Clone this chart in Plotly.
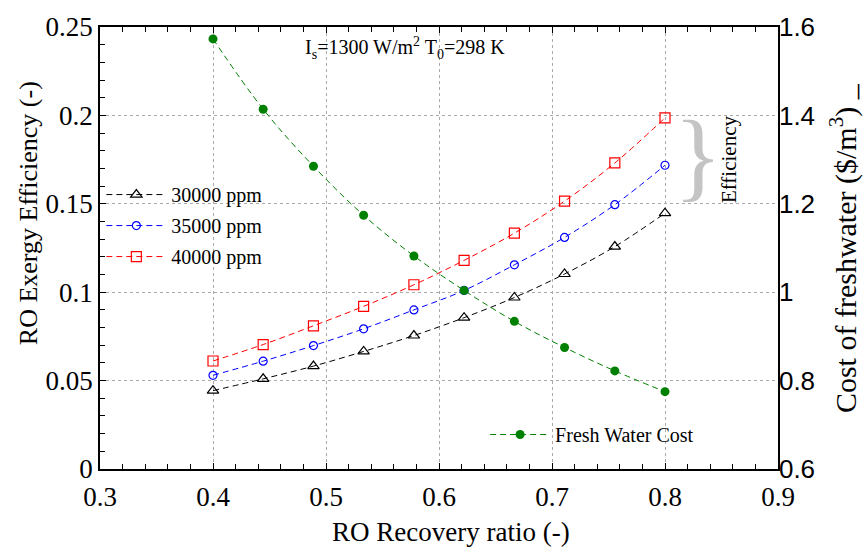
import plotly.graph_objects as go

recovery = [0.4, 0.4444, 0.4889, 0.5333, 0.5778, 0.6222, 0.6667, 0.7111, 0.7556, 0.8]
eff_30000 = [0.0443, 0.0510, 0.0582, 0.0665, 0.0755, 0.0856, 0.0970, 0.1103, 0.1258, 0.1447]
eff_35000 = [0.0530, 0.0610, 0.0698, 0.0793, 0.0900, 0.1010, 0.1155, 0.1310, 0.1495, 0.1718]
eff_40000 = [0.0611, 0.0704, 0.0810, 0.0920, 0.1042, 0.1180, 0.1334, 0.1515, 0.1731, 0.1986]
cost = [1.573, 1.414, 1.285, 1.174, 1.082, 1.004, 0.934, 0.875, 0.822, 0.775]

SERIF = "Liberation Serif, Times New Roman, serif"
SANS = "Liberation Sans, Arial, sans-serif"
DASH = "6px,4px"

fig = go.Figure()
series = [
    ("30000 ppm", eff_30000, "black", "triangle-up-open", 10),
    ("35000 ppm", eff_35000, "blue", "circle-open", 8),
    ("40000 ppm", eff_40000, "red", "square-open", 10),
]
for i, (name, vals, col, sym, sz) in enumerate(series):
    fig.add_trace(go.Scatter(
        x=recovery, y=vals, name=name, mode="lines+markers",
        line=dict(color=col, width=1, dash=DASH, shape="spline"),
        marker=dict(symbol=sym, size=sz, color=col, line=dict(width=1.2, color=col)),
        legendgroup=f"g{i}", legend="legend",
    ))
fig.add_trace(go.Scatter(
    x=recovery, y=cost, name="Fresh Water Cost", mode="lines+markers",
    line=dict(color="#008000", width=1, dash=DASH, shape="spline"),
    marker=dict(symbol="circle", size=9, color="#008000"),
    yaxis="y2", legend="legend2",
))

grid = dict(showgrid=True, gridcolor="#aaaaaa", griddash="dot", gridwidth=1)
fig.update_layout(
    width=865, height=552,
    margin=dict(l=100, r=87, t=18, b=83),
    plot_bgcolor="white", paper_bgcolor="white",
    font=dict(family=SERIF, size=18, color="black"),
    xaxis=dict(
        range=[0.3, 0.9], dtick=0.1, tick0=0.3, ticks="inside", ticklen=6,
        tickcolor="black", showline=True, linecolor="black", linewidth=1.5,
        mirror="ticks", zeroline=False, ticklabelstandoff=3,
        tickfont=dict(family=SERIF, size=27),
        minor=dict(dtick=0.02, ticks="inside", ticklen=5, tickcolor="black", showgrid=False),
        **grid,
    ),
    yaxis=dict(
        range=[0, 0.25], dtick=0.05, ticks="inside", ticklen=6,
        tickcolor="black", showline=True, linecolor="black", linewidth=1.5,
        zeroline=False, tickfont=dict(family=SERIF, size=27),
        minor=dict(dtick=0.01, ticks="inside", ticklen=5, tickcolor="black", showgrid=False),
        **grid,
    ),
    yaxis2=dict(
        range=[0.6, 1.6], dtick=0.2, overlaying="y", side="right",
        showline=True, linecolor="black", linewidth=1.5, showgrid=False,
        zeroline=False, ticks="", ticklabelstandoff=-6,
        tickfont=dict(family=SANS, size=26),
    ),
    legend=dict(x=0.002, y=0.665, xanchor="left", yanchor="top",
                bgcolor="rgba(0,0,0,0)", font=dict(family=SERIF, size=20),
                itemwidth=60, tracegroupgap=2),
    legend2=dict(x=0.568, y=0.078, xanchor="left", yanchor="middle",
                 bgcolor="rgba(0,0,0,0)", font=dict(family=SERIF, size=20),
                 itemwidth=60),
    showlegend=True,
)

# axis titles
fig.add_annotation(text="RO Recovery ratio (-)", xref="paper", yref="paper",
                   x=0.517, y=-0.142, xanchor="center", yanchor="middle", showarrow=False,
                   font=dict(family=SERIF, size=27))
fig.add_annotation(text="RO Exergy Efficiency (-)", xref="paper", yref="paper",
                   x=-0.106, y=0.579, xanchor="center", yanchor="middle", showarrow=False,
                   textangle=-90, font=dict(family=SERIF, size=26))
fig.add_annotation(text="Cost of freshwater ($/m<sup>3</sup>) _", xref="paper", yref="paper",
                   x=1.096, y=0.50, xanchor="center", yanchor="middle", showarrow=False,
                   textangle=-90, font=dict(family=SERIF, size=30))

fig.add_annotation(
    text="I<sub>s</sub>=1300 W/m<sup>2</sup> T<sub>0</sub>=298 K",
    xref="paper", yref="paper", x=0.30, y=0.953, xanchor="left", yanchor="middle",
    showarrow=False, font=dict(family=SERIF, size=20),
)
fig.add_annotation(
    text="}", xref="paper", yref="paper", x=0.882, y=0.71, xanchor="center", yanchor="middle",
    showarrow=False, font=dict(family=SERIF, size=100, color="#c4c4c4"),
)
fig.add_annotation(
    text="Efficiency", xref="paper", yref="paper", x=0.927, y=0.70, textangle=-90,
    xanchor="center", yanchor="middle", showarrow=False,
    font=dict(family=SERIF, size=21),
)

fig.write_html("out.html")
